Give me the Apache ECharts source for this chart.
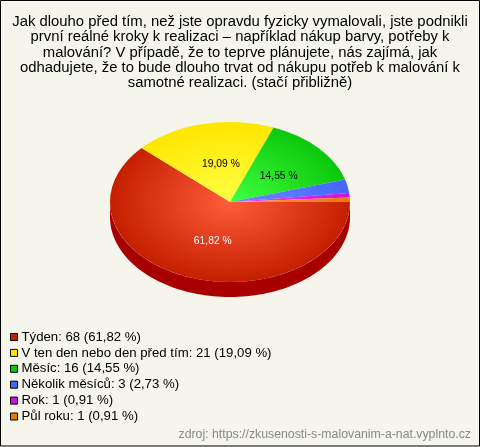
<!DOCTYPE html>
<html><head><meta charset="utf-8">
<style>html,body{margin:0;padding:0;background:#f5f5ec}#c{width:480px;height:447px}</style>
<script src="https://cdn.jsdelivr.net/npm/echarts@6/dist/echarts.min.js"></script>
</head><body><div id="c"></div>
<script>
const titleLines = [
 "Jak dlouho před tím, než jste opravdu fyzicky vymalovali, jste podnikli",
 "první reálné kroky k realizaci – například nákup barvy, potřeby k",
 "malování? V případě, že to teprve plánujete, nás zajímá, jak",
 "odhadujete, že to bude dlouho trvat od nákupu potřeb k malování k",
 "samotné realizaci. (stačí přibližně)"
];
const categories = ["Týden","V ten den nebo den před tím","Měsíc","Několik měsíců","Rok","Půl roku"];
const counts = [68,21,16,3,1,1];
const percents = ["61,82","19,09","14,55","2,73","0,91","0,91"];
const edgeColors = ["#c42000","#ffe600","#0cc80c","#4466ff","#d010e0","#e87a08"];
const centerColors = ["#ff5c3c","#ffff44","#40ff40","#6a8cff","#f040ff","#ff9a30"];
const labelColors = ["#ffffff","#000000","#000000",null,null,null];
const sourceText = "zdroj: https://zkusenosti-s-malovanim-a-nat.vyplnto.cz";

const cx=230, cy=202, rx=120, ry=80, depth=15, sy=ry/rx;
const total = counts.reduce((a,b)=>a+b,0);
const legendNames = categories.map((c,i)=>`${c}: ${counts[i]} (${percents[i]} %)`);
let acc=0;
const starts = counts.map(v=>{const s=acc; acc+=v; return s;});

function render(i){
  return function(params, api){
    const v = api.value(0);
    const a0 = starts[i]/total*Math.PI*2, a1 = a0+v/total*Math.PI*2;
    const children=[];
    children.push({type:'group',x:cx,y:cy,scaleY:sy,z2:10,children:[{
      type:'sector',
      shape:{cx:0,cy:0,r0:0,r:rx,startAngle:a0,endAngle:a1,clockwise:true},
      style:{fill:{type:'radial',x:0,y:0,r:rx,global:true,
        colorStops:[{offset:0,color:centerColors[i]},{offset:1,color:edgeColors[i]}]}}
    }]});
    if(labelColors[i]){
      const m=(a0+a1)/2, R=0.5;
      children.push({type:'text',z2:20,x:cx+Math.cos(m)*rx*R+4.5,y:cy+Math.sin(m)*ry*R+1.5,
        style:{text:percents[i]+' %',fill:labelColors[i],font:'10.3px "Liberation Sans"',align:'center',verticalAlign:'middle'}});
    }
    return {type:'group',children};
  };
}
function renderWall(params, api){
  const pts=[];
  const N=90;
  for(let k=0;k<=N;k++){const t=Math.PI*k/N;pts.push([cx+rx*Math.cos(t),cy+ry*Math.sin(t)]);}
  for(let k=N;k>=0;k--){const t=Math.PI*k/N;pts.push([cx+rx*Math.cos(t),cy+depth+ry*Math.sin(t)]);}
  return {type:'polygon',shape:{points:pts},style:{fill:'#a80000'}};
}
const series = [{type:'custom',name:'wall',coordinateSystem:'none',silent:true,renderItem:renderWall,data:[[0]],z:1}];
categories.forEach((c,i)=>{
  series.push({type:'custom',name:legendNames[i],coordinateSystem:'none',silent:true,
    renderItem:render(i),data:[[counts[i]]],itemStyle:{color:edgeColors[i]},z:2});
});

const chart=echarts.init(document.getElementById('c'),null,{renderer:'canvas'});
chart.setOption({
  animation:false,
  backgroundColor:'#f5f5ec',
  title:{text:titleLines.join('\n'),left:235,top:9,textAlign:'center',
    textStyle:{fontFamily:'Liberation Sans',fontSize:14.85,fontWeight:'normal',color:'#000',lineHeight:15.4}},
  legend:{orient:'vertical',left:10,top:330.5,itemWidth:7,itemHeight:7,itemGap:2.9,padding:0,
    icon:'rect',data:legendNames,selectedMode:false,
    itemStyle:{borderColor:'#000',borderWidth:1},
    textStyle:{fontFamily:'Liberation Sans',fontSize:13.2,lineHeight:13,color:'#000',padding:[0,0,0,-1]}},
  graphic:[
    {type:'rect',shape:{x:0.5,y:0.5,width:479,height:445.5},style:{fill:'none',stroke:'#000',lineWidth:1},z:100},
    {type:'text',right:9,top:429,style:{text:sourceText,fill:'#888888',font:'12.3px "Liberation Sans"'},z:100}
  ],
  series
});
</script></body></html>
